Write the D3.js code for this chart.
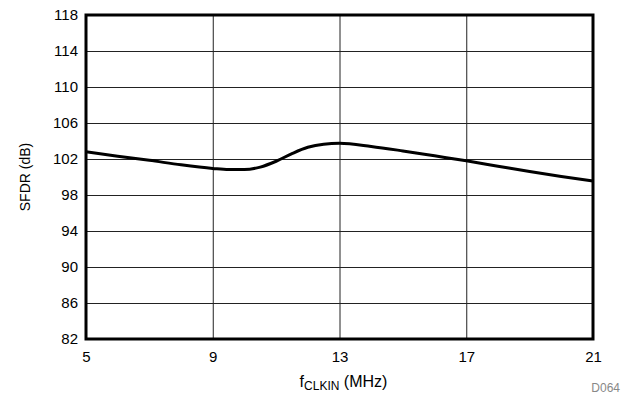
<!DOCTYPE html>
<html><head><meta charset="utf-8">
<script src="https://cdn.jsdelivr.net/npm/d3@7"></script>
<style>body{margin:0;background:#fff}svg{display:block}</style>
</head><body>
<script>
const freq = [5,6,7,8,9,9.5,10,10.5,11,11.5,12,12.5,13,14,15,16,17,18,19,20,21];
const sfdr = [102.8,102.3,101.85,101.35,100.95,100.82,100.82,101.1,101.75,102.6,103.3,103.65,103.75,103.4,102.9,102.35,101.8,101.2,100.6,100.05,99.55];
const xTicks = [5,9,13,17,21];
const yTicks = [82,86,90,94,98,102,106,110,114,118];

const W=626,H=395;
const m={l:86,r:33,t:15,b:56};
const svg=d3.select("body").append("svg").attr("width",W).attr("height",H);
const x=d3.scaleLinear().domain([5,21]).range([m.l,W-m.r]);
const y=d3.scaleLinear().domain([82,118]).range([H-m.b,m.t]);
const font="Liberation Sans, Arial, sans-serif";

const gx=svg.append("g").attr("transform",`translate(0,${H-m.b})`)
  .call(d3.axisBottom(x).tickValues(xTicks).tickSize(-(H-m.b-m.t)).tickPadding(12).tickFormat(d3.format("d")));
const gy=svg.append("g").attr("transform",`translate(${m.l},0)`)
  .call(d3.axisLeft(y).tickValues(yTicks).tickSize(-(W-m.l-m.r)).tickPadding(8).tickFormat(d3.format("d")));
[gx,gy].forEach(g=>{
  g.select(".domain").remove();
  g.selectAll("line").attr("stroke","#222").attr("stroke-width",1);
  g.selectAll("text").attr("font-family",font).attr("font-size",15).attr("fill","#000");
});

svg.append("rect").attr("x",m.l).attr("y",m.t).attr("width",W-m.l-m.r).attr("height",H-m.b-m.t)
  .attr("fill","none").attr("stroke","#000").attr("stroke-width",3);

const line=d3.line().x((d,i)=>x(freq[i])).y(d=>y(d)).curve(d3.curveMonotoneX);
svg.append("path").datum(sfdr).attr("d",line).attr("fill","none").attr("stroke","#000").attr("stroke-width",3);

svg.append("text").attr("transform",`translate(30,${(m.t+H-m.b)/2}) rotate(-90)`)
  .attr("text-anchor","middle").attr("font-family",font).attr("font-size",14).text("SFDR (dB)");

const xl=svg.append("text").attr("x",(m.l+W-m.r)/2+4).attr("y",387).attr("text-anchor","middle")
  .attr("font-family",font).attr("font-size",16);
xl.append("tspan").text("f");
xl.append("tspan").attr("font-size",12).attr("dy",3).text("CLKIN");
xl.append("tspan").attr("dy",-3).text(" (MHz)");

svg.append("text").attr("x",620).attr("y",392).attr("text-anchor","end")
  .attr("font-family",font).attr("font-size",12).attr("fill","#888").text("D064");
</script>
</body></html>
